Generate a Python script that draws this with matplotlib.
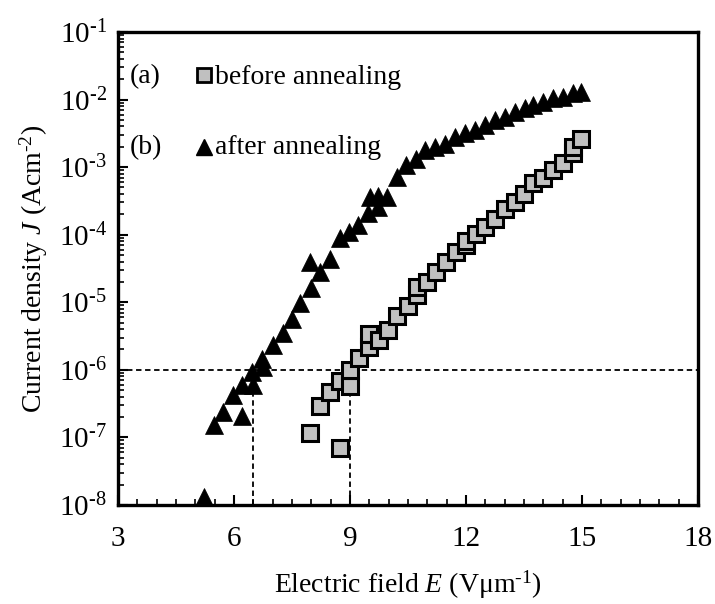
import matplotlib
matplotlib.use("Agg")
import matplotlib.pyplot as plt
from matplotlib.ticker import LogLocator, MultipleLocator, FixedLocator, FuncFormatter
import numpy as np

plt.rcParams['font.family'] = ['Liberation Serif', 'DejaVu Serif']
plt.rcParams['mathtext.fontset'] = 'custom'
plt.rcParams['mathtext.rm'] = 'Liberation Serif'
plt.rcParams['mathtext.it'] = 'Liberation Serif:italic'
plt.rcParams['mathtext.bf'] = 'Liberation Serif:bold'

# (a) before annealing
before_E = [7.98, 8.74, 8.22, 8.48, 8.74, 9.0, 9.0, 9.24, 9.5, 9.5, 9.76, 9.99,
            10.23, 10.49, 10.74, 10.74, 11.0, 11.22, 11.48, 11.74, 12.0, 12.0,
            12.26, 12.49, 12.75, 13.0, 13.27, 13.5, 13.74, 14.0, 14.26, 14.5,
            14.76, 14.76, 14.99]
before_J = [1.15e-7, 6.9e-8, 2.9e-7, 4.7e-7, 6.9e-7, 5.8e-7, 1.0e-6, 1.5e-6, 2.2e-6, 3.4e-6,
            2.8e-6, 3.9e-6, 6.3e-6, 8.8e-6, 1.3e-5, 1.7e-5, 2.0e-5, 2.8e-5, 3.9e-5,
            5.6e-5, 7.1e-5, 8.0e-5, 1.02e-4, 1.3e-4, 1.7e-4, 2.4e-4, 3.0e-4, 4.0e-4,
            5.9e-4, 6.9e-4, 9.1e-4, 1.17e-3, 1.6e-3, 2.0e-3, 2.6e-3]

# (b) after annealing
after_E = [5.22, 5.48, 5.72, 6.22, 5.97, 6.22, 6.5, 6.46, 6.74, 6.72, 7.0, 7.26, 7.49,
           7.72, 7.99, 8.22, 7.98, 8.48, 8.74, 8.98, 9.21, 9.47, 9.52, 9.73, 9.96,
           9.73, 10.23, 10.46, 10.71, 10.94, 11.2, 11.46, 11.71, 11.97, 12.23,
           12.49, 12.75, 13.0, 13.27, 13.53, 13.74, 14.0, 14.26, 14.52, 14.77, 14.99]
after_J = [1.3e-8, 1.5e-7, 2.4e-7, 2.1e-7, 4.3e-7, 6.0e-7, 6.0e-7, 9.3e-7, 1.1e-6, 1.45e-6,
           2.3e-6, 3.5e-6, 5.7e-6, 9.7e-6, 1.6e-5, 2.8e-5, 4.0e-5, 4.3e-5, 8.9e-5,
           1.1e-4, 1.4e-4, 2.1e-4, 3.6e-4, 3.7e-4, 3.6e-4, 2.6e-4, 7.2e-4, 1.07e-3,
           1.3e-3, 1.8e-3, 2.0e-3, 2.2e-3, 2.8e-3, 3.2e-3, 3.5e-3, 4.2e-3, 5.0e-3,
           5.6e-3, 6.6e-3, 7.4e-3, 8.3e-3, 9.3e-3, 1.04e-2, 1.1e-2, 1.23e-2, 1.3e-2]

ref_J = 1e-6
ref_E = [6.5, 9.0]

x_ticks = [3, 6, 9, 12, 15, 18]

fig = plt.figure(figsize=(7.15, 6.04), dpi=100)
ax = fig.add_axes([0.165, 0.164, 0.811, 0.783])

ax.set_yscale('log')
ax.set_xlim(3, 18)
ax.set_ylim(1e-8, 1e-1)

ax.axhline(ref_J, color='black', lw=1.3, ls=(0, (3, 2)), zorder=1)
for e in ref_E:
    ax.plot([e, e], [1e-8, ref_J], color='black', lw=1.3, ls=(0, (3, 2)), zorder=1)

ax.plot(before_E, before_J, ls='none', marker='s', ms=11.5, mfc='#c0c0c0',
        mec='black', mew=2.2, zorder=3, clip_on=False)
ax.plot(after_E, after_J, ls='none', marker='^', ms=13, mfc='black',
        mec='black', mew=0.5, zorder=4, clip_on=False)

ax.xaxis.set_major_locator(FixedLocator(x_ticks))
ax.xaxis.set_minor_locator(MultipleLocator(0.5))
ax.yaxis.set_major_locator(LogLocator(base=10, numticks=20))
ax.yaxis.set_minor_locator(LogLocator(base=10, subs=range(2, 10), numticks=20))


def yfmt(v, pos):
    e = int(round(np.log10(v)))
    sign = '\u2010' if e < 0 else ''
    return '10$^{\\mathrm{' + sign + str(abs(e)) + '}}$'


ax.yaxis.set_major_formatter(FuncFormatter(yfmt))

ax.tick_params(axis='both', which='both', direction='in', top=False, right=False,
               labelsize=21)
ax.tick_params(axis='both', which='major', length=7, width=1.5)
ax.tick_params(axis='both', which='minor', length=4, width=1.2)
ax.tick_params(axis='x', which='major', pad=15)
ax.tick_params(axis='y', which='major', pad=8)

for s in ax.spines.values():
    s.set_linewidth(2.4)

ax.set_xlabel('Electric field $\\mathit{E}$ (V\u03bcm$^{\\mathrm{\u20101}}$)', fontsize=20, labelpad=12)
ax.set_ylabel('Current density $\\mathit{J}$ (Acm$^{\\mathrm{\u20102}}$)', fontsize=20, labelpad=6)

# legend text
fig.text(130/715, 1-77/604, '(a)', fontsize=20, va='center', ha='left')
fig.text(215/715, 1-77/604, 'before annealing', fontsize=20, va='center', ha='left')
fig.text(130/715, 1-148/604, '(b)', fontsize=20, va='center', ha='left')
fig.text(215/715, 1-148/604, 'after annealing', fontsize=20, va='center', ha='left')
lax = fig.add_axes([0, 0, 1, 1], facecolor='none')
lax.set_xlim(0, 715)
lax.set_ylim(604, 0)
lax.axis('off')
lax.plot([204], [75], marker='s', ms=10, mfc='#c0c0c0', mec='black', mew=2.0, ls='none')
lax.plot([204], [147], marker='^', ms=12, mfc='black', mec='black', ls='none')

fig.savefig('out.png', dpi=100)
